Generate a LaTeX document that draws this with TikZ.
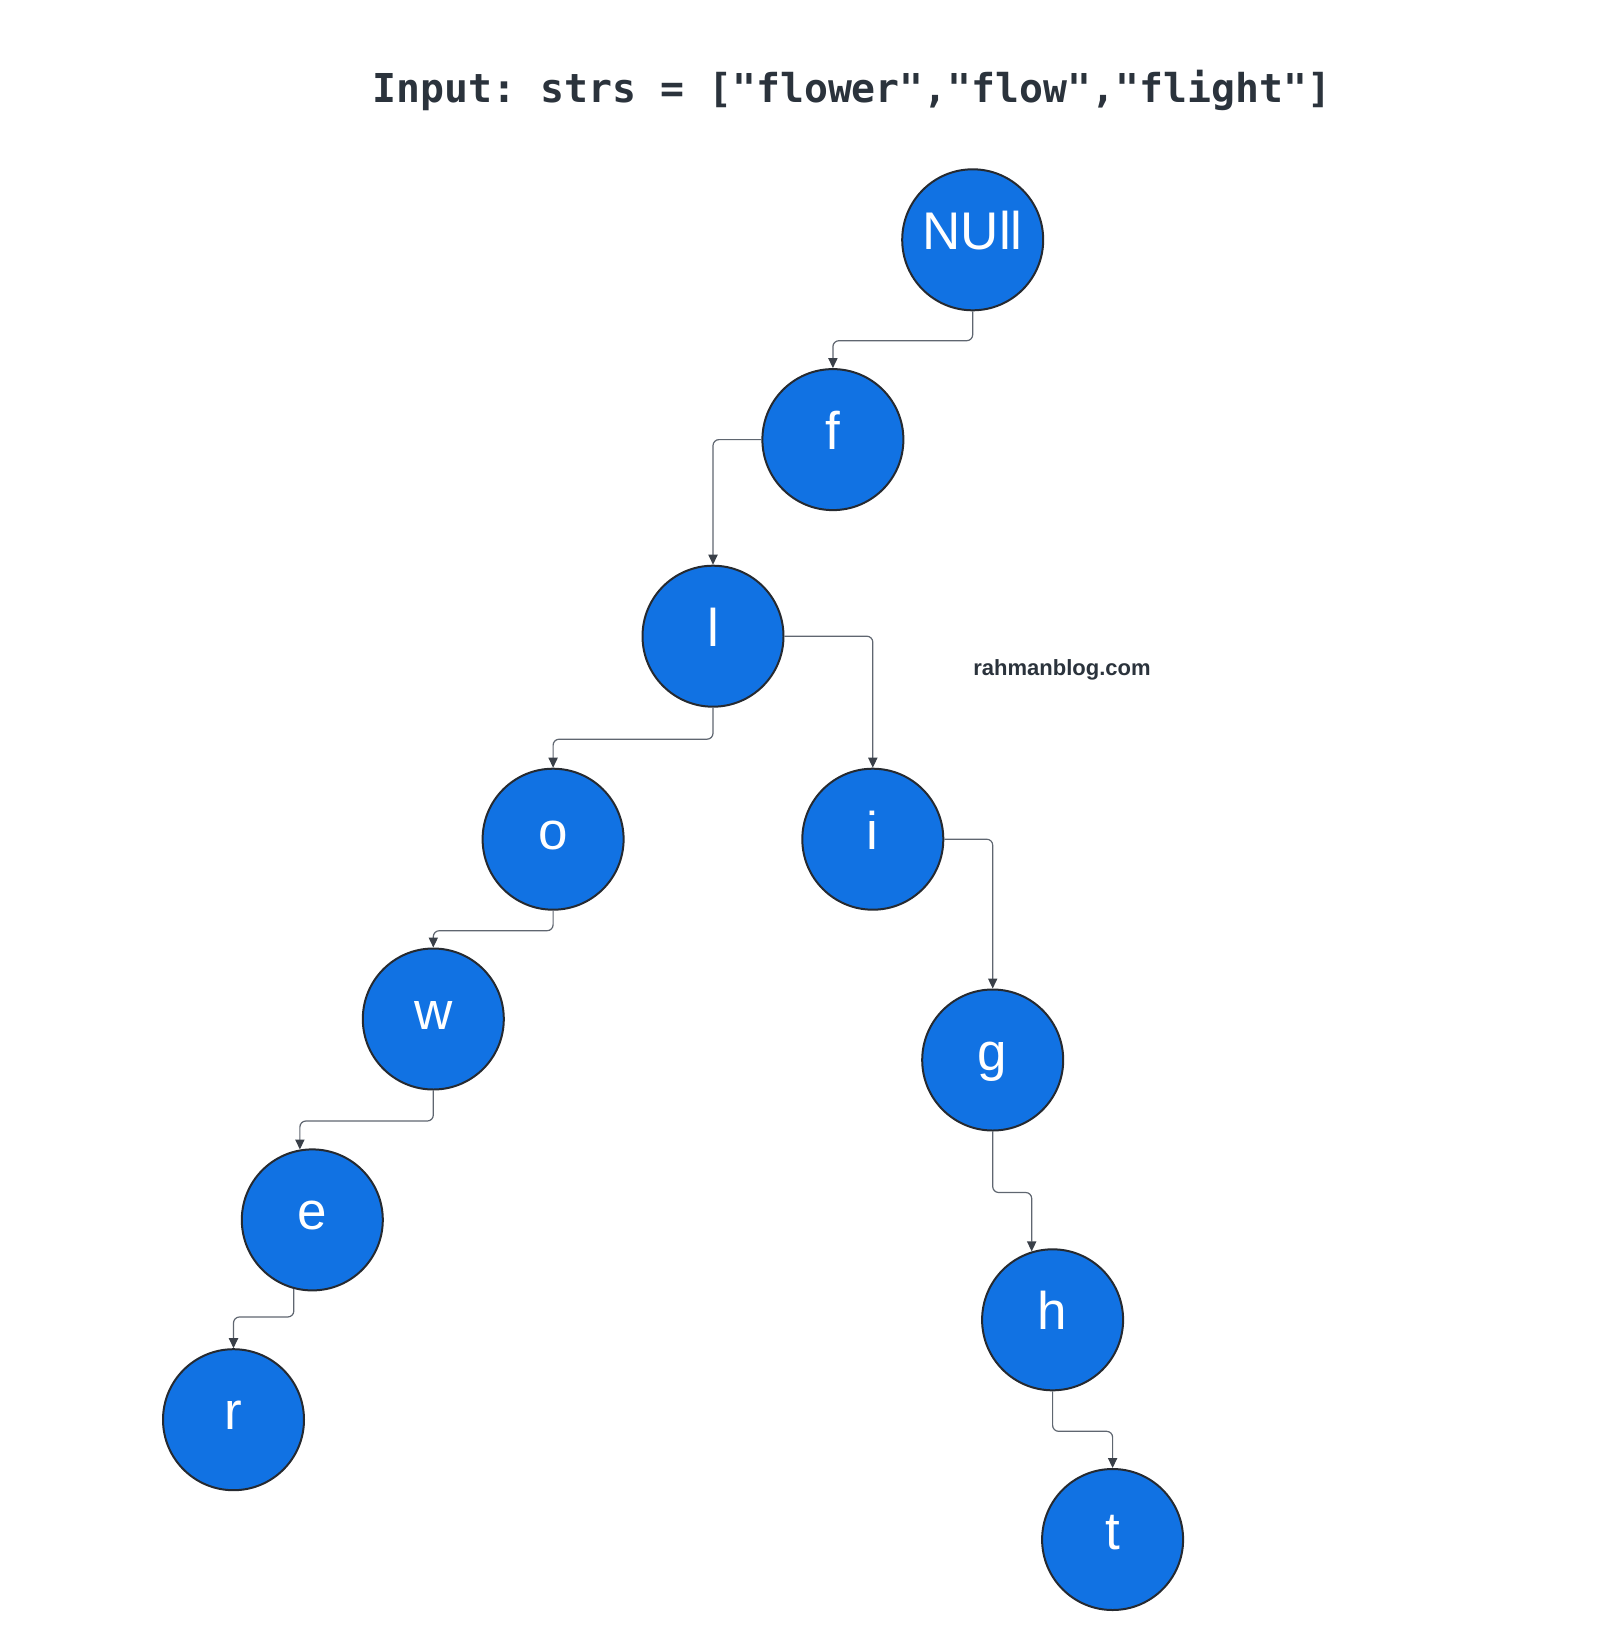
\documentclass[tikz,border=0pt]{standalone}
\usepackage{fontspec}
\setmainfont{Liberation Sans}
\newfontfamily\titlefont{DejaVu Sans Mono}
\usetikzlibrary{arrows.meta}
\definecolor{nodeblue}{HTML}{1172E3}
\definecolor{rimdark}{HTML}{262A30}
\definecolor{linegray}{HTML}{5F6670}
\definecolor{tipdark}{HTML}{3A4049}
\definecolor{textdark}{HTML}{2B333C}
\tikzset{
  trienode/.style={circle, draw=rimdark, line width=1pt, fill=nodeblue, minimum size=141*0.5pt, inner sep=0pt, text=white, text height=19pt, text depth=9pt, font=\fontsize{26.5pt}{28pt}\selectfont},
  conn/.style={draw=linegray, line width=0.6pt, rounded corners=3pt, -{Triangle[length=5pt,width=4.6pt,fill=tipdark,color=tipdark]}}
}
\begin{document}
\frenchspacing
\begin{tikzpicture}[x=0.5pt,y=-0.5pt]
\useasboundingbox (0,0) rectangle (1609,1649);
\node[font=\titlefont\bfseries\fontsize{19.9pt}{22pt}\selectfont, text=textdark] (title) at (852,90) {Input: strs = ["flower","flow","flight"]};
\node[font=\bfseries\fontsize{11pt}{13pt}\selectfont, text=textdark] (wm) at (1062,670) {rahmanblog.com};
\node[trienode] (NUll) at (972.7,239.8) {NUll};
\node[trienode] (f) at (832.9,439.6) {f};
\node[trienode] (l) at (713.0,636.2) {l};
\node[trienode] (o) at (553.1,839.2) {o};
\node[trienode] (i) at (872.8,839.2) {i};
\node[trienode] (w) at (433.3,1019.0) {w};
\node[trienode] (g) at (992.7,1060.0) {g};
\node[trienode] (e) at (312.3,1219.9) {e};
\node[trienode] (h) at (1052.6,1319.8) {h};
\node[trienode] (r) at (233.5,1419.7) {r};
\node[trienode] (t) at (1112.6,1539.5) {t};
\draw[conn] (NUll.south) -- ++(0,29.4) -| (f.north);
\draw[conn] (f.west) -| (l.north);
\draw[conn] (l.south) -- ++(0,31.5) -| (o.north);
\draw[conn] (l.east) -| (i.north);
\draw[conn] (o.south) -- ++(0,20) -| (w.north);
\draw[conn] (i.east) -| (g.north);
\draw[conn] (w.south) -- ++(0,30.5) -| (e.100);
\draw[conn] (e.255) -- ++(0,28) -| (r.north);
\draw[conn] (g.south) -- ++(0,61) -| (h.107);
\draw[conn] (h.south) -- ++(0,40) -| (t.north);
\end{tikzpicture}
\end{document}
